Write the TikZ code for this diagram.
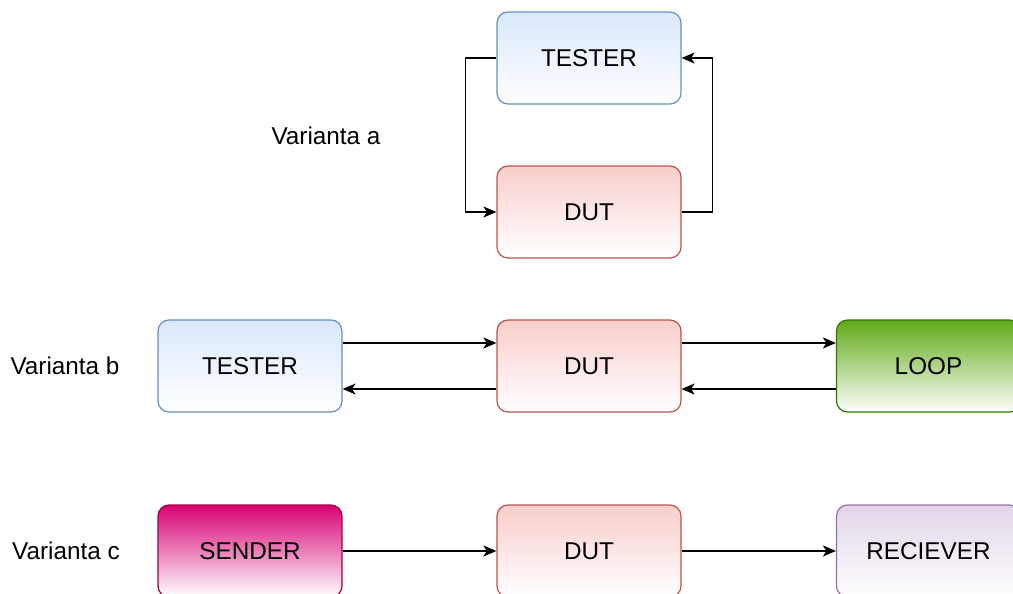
\documentclass[tikz,border=0pt]{standalone}
\usepackage{fontspec}
\setmainfont{Liberation Sans}
\usetikzlibrary{positioning,calc,arrows.meta}

\definecolor{blueFill}{HTML}{DAE8FC}
\definecolor{blueLine}{HTML}{6C8EBF}
\definecolor{redFill}{HTML}{F8CECC}
\definecolor{redLine}{HTML}{B85450}
\definecolor{greenFill}{HTML}{60A917}
\definecolor{greenLine}{HTML}{2D7600}
\definecolor{pinkFill}{HTML}{D80073}
\definecolor{pinkLine}{HTML}{A50040}
\definecolor{purpleFill}{HTML}{E1D5E7}
\definecolor{purpleLine}{HTML}{9673A6}

\tikzset{
	block/.style={rounded corners=11pt, minimum width=184pt, minimum height=92pt,
		line width=1.2pt, bottom color=white, font=\fontsize{24.3}{27}\selectfont},
	blueblock/.style={block, draw=blueLine, top color=blueFill},
	redblock/.style={block, draw=redLine, top color=redFill},
	greenblock/.style={block, draw=greenLine, top color=greenFill},
	pinkblock/.style={block, draw=pinkLine, top color=pinkFill},
	purpleblock/.style={block, draw=purpleLine, top color=purpleFill},
	lbl/.style={font=\fontsize{24.3}{27}\selectfont},
	conn/.style={line width=1.4pt, -{Stealth[length=13pt,width=11pt,inset=3.5pt]}}
}

\begin{document}
\begin{tikzpicture}[x=1pt, y=-1pt]
	\clip (0,0) rectangle (1013,594);

	% Varianta a
	\node[lbl] (la) at (326, 136) {Varianta a};
	\node[blueblock] (testA) at (589, 58)  {TESTER};
	\node[redblock]  (dutA)  at (589, 212) {DUT};

	\draw[conn] (testA.west) -- ++(-31,0) |- (dutA.west);
	\draw[conn] (dutA.east) -- ++(31,0) |- (testA.east);

	% Varianta b
	\node[lbl] (lb) at (65, 366) {Varianta b};
	\node[blueblock]  (testB) at (250, 366)   {TESTER};
	\node[redblock]   (dutB)  at (589, 366)   {DUT};
	\node[greenblock] (loop)  at (928.5, 366) {LOOP};

	\draw[conn] ([yshift=23pt]testB.east) -- ([yshift=23pt]dutB.west);
	\draw[conn] ([yshift=-23pt]dutB.west) -- ([yshift=-23pt]testB.east);
	\draw[conn] ([yshift=23pt]dutB.east) -- ([yshift=23pt]loop.west);
	\draw[conn] ([yshift=-23pt]loop.west) -- ([yshift=-23pt]dutB.east);

	% Varianta c
	\node[lbl] (lc) at (66, 551) {Varianta c};
	\node[pinkblock]   (send) at (250, 551)   {SENDER};
	\node[redblock]    (dutC) at (589, 551)   {DUT};
	\node[purpleblock] (recv) at (928.5, 551) {RECIEVER};

	\draw[conn] (send) -- (dutC);
	\draw[conn] (dutC) -- (recv);
\end{tikzpicture}
\end{document}
